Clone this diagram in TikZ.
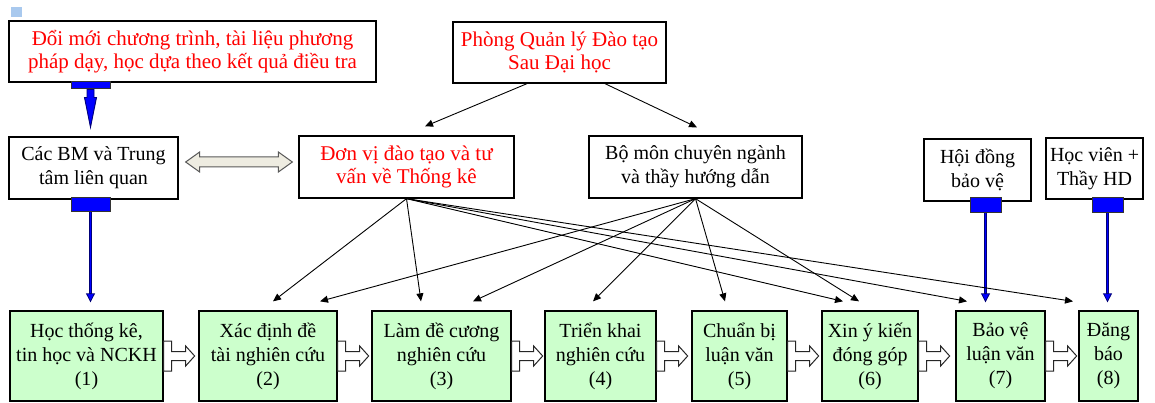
\documentclass[tikz,border=0pt]{standalone}
\usepackage{fontspec}
\setmainfont{Liberation Serif}
\usetikzlibrary{arrows.meta,calc}
\definecolor{boxgreen}{RGB}{204,255,204}
\definecolor{navyline}{RGB}{0,0,120}
\definecolor{tabblue}{RGB}{0,0,255}
\definecolor{beige}{RGB}{238,236,225}
\definecolor{lightsq}{RGB}{169,201,238}
\definecolor{redtext}{RGB}{255,0,0}
\newcommand\mkharrow[1]{%
  \draw[harrow] ($(#1.east)+(0,-15)$) -- ++(8,0) -- ++(0,10.5) -- ++(14,0) -- ++(0,-5.5)
    -- ++(9,10) -- ++(-9,10) -- ++(0,-5.5) -- ++(-14,0) -- ++(0,10.5) -- ++(-8,0) -- cycle;}
\begin{document}
\begin{tikzpicture}[x=1pt,y=-1pt,
  box/.style={draw=black, line width=1.3pt, fill=white, align=center, inner sep=0pt,
    font=\fontsize{20}{24}\selectfont},
  redbox/.style={box, text=redtext, font=\fontsize{21}{23.5}\selectfont},
  stepbox/.style={box, fill=boxgreen, minimum height=90pt},
  tab/.style={draw=black!80, fill=tabblue, line width=1pt, inner sep=0pt},
  conn/.style={draw=black, line width=0.9pt, -{Triangle[width=7pt,length=8pt]}},
  blueouter/.style={draw=navyline, line width=3pt,
    -{Triangle[width=9pt,length=9pt,line width=0.8pt,fill=tabblue]}},
  bluecore/.style={draw=tabblue, line width=0.9pt, shorten >=9pt},
  harrow/.style={draw=black!85, fill=white, line width=1pt},
  dblarrow/.style={draw=black!65, fill=beige, line width=1pt}
]
\useasboundingbox (0,0) rectangle (1155,403);
\fill[lightsq] (11,7) rectangle (22,17);

% top and middle boxes
\node[redbox, minimum width=367pt, minimum height=61pt] (tl) at (192.5,51.5)
  {Đổi mới chương trình, tài liệu phương\\pháp dạy, học dựa theo kết quả điều tra};
\node[redbox, minimum width=213pt, minimum height=61pt] (pq) at (559.5,52.5)
  {Phòng Quản lý Đào tạo\\Sau Đại học};
\node[box, minimum width=169pt, minimum height=62pt] (cb) at (93.5,168)
  {Các BM và Trung\\tâm liên quan};
\node[redbox, minimum width=215pt, minimum height=62pt] (dv) at (406.5,167)
  {Đơn vị đào tạo và tư\\vấn về Thống kê};
\node[box, minimum width=213pt, minimum height=62pt] (bm) at (695.5,167)
  {Bộ môn chuyên ngành\\và thầy hướng dẫn};
\node[box, minimum width=107pt, minimum height=62pt] (hd) at (977.5,170)
  {Hội đồng\\bảo vệ};
\node[box, minimum width=97pt, minimum height=61pt] (hv) at (1094.5,168.5)
  {Học viên +\\Thầy HD};

% bottom steps
\node[stepbox, minimum width=153pt] (b1) at (86.5,356) {Học thống kê,\\tin học và NCKH\\(1)};
\node[stepbox, minimum width=138pt] (b2) at (268,356) {Xác định đề\\tài nghiên cứu\\(2)};
\node[stepbox, minimum width=139pt] (b3) at (441.5,356) {Làm đề cương\\nghiên cứu\\(3)};
\node[stepbox, minimum width=111pt] (b4) at (600.5,356) {Triển khai\\nghiên cứu\\(4)};
\node[stepbox, minimum width=95pt] (b5) at (739.5,356) {Chuẩn bị\\luận văn\\(5)};
\node[stepbox, minimum width=96pt] (b6) at (870,356) {Xin ý kiến\\đóng góp\\(6)};
\node[stepbox, minimum width=89pt] (b7) at (1000.5,356) {Bảo vệ\\luận văn\\(7)};
\node[stepbox, minimum width=59pt] (b8) at (1108.5,356) {Đăng\\báo\\(8)};

% hollow step arrows
\mkharrow{b1}\mkharrow{b2}\mkharrow{b3}\mkharrow{b4}\mkharrow{b5}\mkharrow{b6}\mkharrow{b7}

% double arrow
\coordinate (dl) at ($(cb.east)+(7,-6)$);
\coordinate (dr) at ($(dv.west)+(-6,-5)$);
\draw[dblarrow] (dl) -- ++(14,-10) -- ++(0,5) -- ($(dr)+(-14,-5)$) -- ++(0,-5) -- (dr)
  -- ++(-14,10) -- ++(0,-5) -- ($(dl)+(14,5)$) -- ++(0,5) -- cycle;

% blue tabs and connectors
\node[tab, minimum width=39pt, minimum height=7pt] (ttl) at (90.5,85.5) {};
\coordinate (tltip) at ($(ttl.south |- cb.north)+(0,-9)$);
\draw[draw=navyline, fill=tabblue, line width=0.9pt]
  ($(ttl.south)+(-3.5,0)$) -- ++(0,8) -- ++(-2.5,0) -- (tltip) -- ($(ttl.south)+(6,8)$)
  -- ++(-2.5,0) -- ++(0,-8) -- cycle;

\node[tab, minimum width=39pt, minimum height=14pt] (tcb) at (90.5,205) {};
\node[tab, minimum width=31pt, minimum height=15pt] (thd) at (985.5,205.5) {};
\node[tab, minimum width=31pt, minimum height=15pt] (thv) at (1107.5,205.5) {};

\draw[blueouter] (tcb.south) -- ($(tcb.south |- b1.north)+(0,-8)$);
\draw[bluecore] (tcb.south) -- ($(tcb.south |- b1.north)+(0,-8)$);
\draw[blueouter] (thd.south) -- ($(thd.south |- b7.north)+(0,-8)$);
\draw[bluecore] (thd.south) -- ($(thd.south |- b7.north)+(0,-8)$);
\draw[blueouter] (thv.south) -- ($(thv.south |- b8.north)+(0,-8)$);
\draw[bluecore] (thv.south) -- ($(thv.south |- b8.north)+(0,-8)$);

% thin connectors
\draw[conn] ([xshift=-32.5pt]pq.south) -- ([xshift=18.5pt,yshift=9pt]dv.north);
\draw[conn] ([xshift=45.5pt]pq.south) -- ([xshift=1.5pt,yshift=8pt]bm.north);

\draw[conn] (dv.south) -- ([xshift=5pt,yshift=9pt]b2.north);
\draw[conn] (dv.south) -- ([xshift=-20.5pt,yshift=9pt]b3.north);
\draw[conn] (dv.south) -- ([xshift=-27pt,yshift=9pt]b6.north);
\draw[conn] (dv.south) -- ([xshift=-33.5pt,yshift=9pt]b7.north);
\draw[conn] (dv.south) -- ([xshift=-35.5pt,yshift=9pt]b8.north);

\draw[conn] (bm.south) -- ([xshift=52pt,yshift=9pt]b2.north);
\draw[conn] (bm.south) -- ([xshift=31.5pt,yshift=9pt]b3.north);
\draw[conn] (bm.south) -- ([xshift=-7.5pt,yshift=9pt]b4.north);
\draw[conn] (bm.south) -- ([xshift=-14.5pt,yshift=9pt]b5.north);
\draw[conn] (bm.south) -- ([xshift=-11pt,yshift=9pt]b6.north);
\end{tikzpicture}
\end{document}
